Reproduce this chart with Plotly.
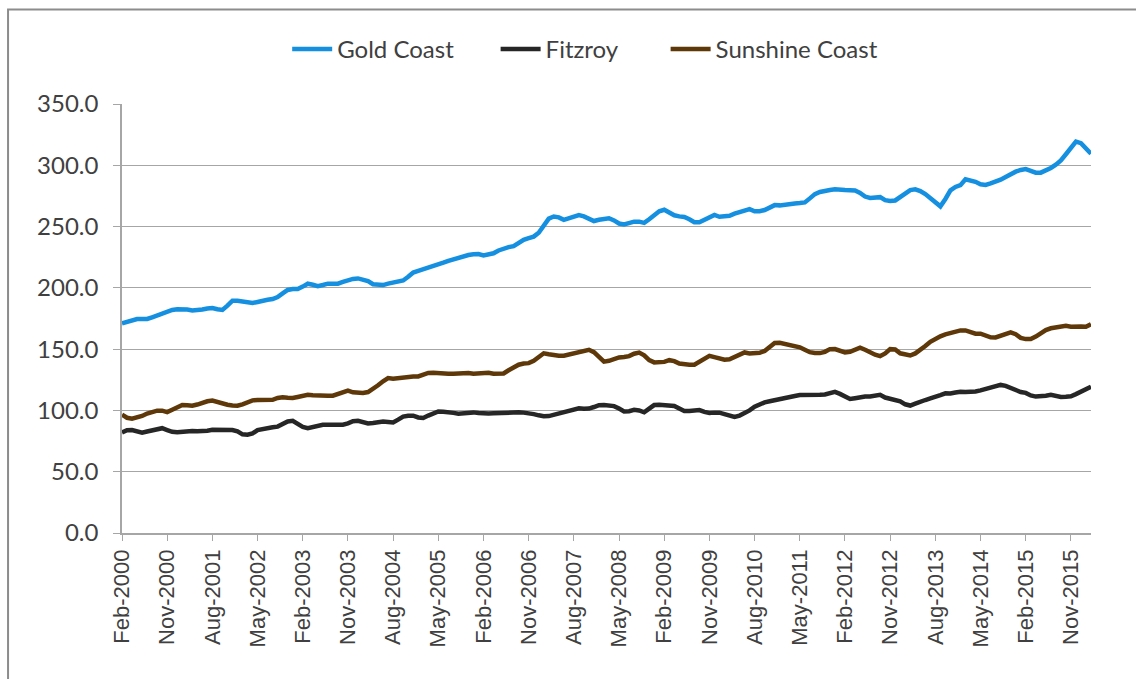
import pandas as pd
import plotly.graph_objects as go

# Monthly index values, Feb-2000 .. Mar-2016
months = pd.date_range("2000-02-01", periods=194, freq="MS").strftime("%b-%Y").tolist()

gold_coast = [
    171.0, 172.0, 173.0, 174.5, 174.5, 174.6, 176.0, 177.5, 179.5, 181.0,
    182.0, 182.5, 182.7, 182.3, 181.6, 181.5, 182.3, 183.2, 183.5, 182.5,
    182.0, 185.5, 189.5, 189.5, 189.0, 188.0, 187.6, 188.5, 189.8, 190.3,
    190.9, 192.5, 195.5, 198.3, 199.0, 199.0, 201.0, 203.4, 202.5, 201.3,
    202.3, 203.4, 203.4, 203.4, 204.8, 206.3, 207.3, 207.7, 207.0, 205.5,
    203.0, 202.3, 202.3, 203.5, 204.5, 205.2, 206.0, 209.0, 212.5, 213.8,
    215.0, 216.2, 217.5, 219.0, 220.5, 222.0, 223.3, 224.3, 225.5, 226.8,
    227.4, 227.6, 226.5, 227.0, 228.2, 230.5, 232.3, 233.2, 234.0, 236.5,
    239.2, 240.5, 241.8, 245.0, 251.0, 256.5, 258.2, 257.5, 255.5, 256.5,
    258.3, 259.3, 258.3, 256.5, 254.5, 255.5, 256.5, 256.8, 255.0, 252.5,
    251.8, 253.0, 254.0, 254.0, 253.0, 256.0, 259.5, 262.5, 263.7, 261.0,
    259.2, 258.3, 257.8, 256.0, 253.5, 253.5, 255.8, 257.8, 259.5, 258.0,
    258.2, 258.8, 260.5, 261.8, 263.0, 264.2, 262.5, 262.5, 263.5, 265.5,
    267.5, 267.3, 267.5, 268.3, 268.8, 269.2, 269.7, 273.0, 276.5, 278.2,
    279.3, 279.8, 280.4, 280.5, 279.8, 279.6, 279.4, 277.5, 274.5, 273.3,
    273.5, 274.0, 271.5, 270.8, 271.3, 274.0, 277.5, 279.8, 280.4, 279.0,
    276.5, 273.5, 269.5, 266.5, 272.5, 279.5, 282.3, 283.8, 288.5, 287.5,
    286.5, 284.5, 284.0, 285.2, 286.3, 288.3, 290.5, 292.8, 294.8, 296.2,
    296.9, 295.5, 294.0, 294.0, 295.5, 297.8, 300.5, 304.0, 309.0, 314.5,
    319.3, 318.0, 313.5, 309.5,
]

fitzroy = [
    82.0, 83.8, 84.0, 82.8, 81.8, 82.8, 84.0, 84.8, 85.5, 84.0,
    82.6, 82.3, 82.5, 83.6, 83.2, 83.0, 82.9, 83.5, 84.3, 84.3,
    84.3, 84.2, 84.0, 83.0, 80.5, 80.2, 81.2, 84.0, 85.0, 85.8,
    86.3, 86.8, 88.5, 91.0, 91.5, 89.5, 86.5, 85.6, 86.8, 88.0,
    88.3, 88.3, 88.3, 88.3, 88.3, 89.4, 91.2, 91.5, 90.3, 89.3,
    89.8, 90.6, 91.0, 90.6, 90.2, 92.5, 95.0, 95.7, 95.7, 94.3,
    93.8, 95.8, 98.0, 99.2, 99.0, 98.8, 98.0, 97.4, 97.8, 98.3,
    98.4, 97.9, 97.4, 97.5, 97.6, 97.8, 97.9, 98.5, 98.9, 98.5,
    98.2, 97.9, 97.0, 96.0, 95.2, 95.4, 96.5, 98.0, 99.3, 100.5,
    101.6, 101.8, 101.3, 101.5, 102.8, 104.3, 104.5, 104.0, 103.5, 101.5,
    99.2, 99.4, 100.5, 100.0, 98.5, 101.5, 104.4, 104.7, 104.5, 104.2,
    103.6, 101.5, 99.5, 99.5, 100.3, 100.3, 98.8, 97.9, 98.2, 98.2,
    97.0, 96.0, 94.7, 95.8, 97.5, 100.0, 103.0, 105.2, 106.6, 107.5,
    108.5, 109.6, 110.5, 111.0, 111.8, 112.5, 112.8, 112.8, 112.8, 112.8,
    113.0, 114.5, 115.2, 113.5, 111.0, 109.3, 110.0, 111.1, 111.4, 111.4,
    112.0, 112.7, 110.5, 109.8, 108.9, 107.5, 105.0, 104.0, 105.5, 107.3,
    108.5, 109.8, 110.8, 112.5, 114.0, 113.8, 114.6, 115.3, 115.0, 114.8,
    115.5, 116.4, 117.5, 118.7, 119.8, 120.8, 120.0, 118.0, 116.3, 115.0,
    114.3, 112.2, 111.3, 111.4, 112.0, 112.7, 112.0, 110.9, 111.2, 111.6,
    113.3, 115.3, 117.6, 119.3,
]

sunshine_coast = [
    96.5, 94.0, 93.2, 94.2, 95.5, 97.5, 99.0, 99.8, 99.8, 98.6,
    100.5, 103.0, 104.5, 104.3, 103.8, 104.8, 106.3, 107.5, 108.0, 106.6,
    105.3, 104.6, 104.0, 103.8, 105.0, 106.8, 108.2, 108.5, 108.7, 108.7,
    108.7, 110.2, 110.8, 110.4, 110.1, 111.0, 112.2, 112.8, 112.4, 112.0,
    112.0, 112.0, 112.0, 113.6, 115.5, 116.2, 114.8, 114.2, 114.2, 115.0,
    117.5, 120.5, 123.8, 126.4, 125.8, 126.3, 127.2, 127.7, 127.7, 127.7,
    129.0, 130.6, 130.8, 130.2, 129.9, 129.9, 129.9, 130.2, 131.0, 130.5,
    129.9, 130.4, 131.2, 130.8, 129.9, 129.9, 130.2, 132.8, 135.0, 137.3,
    138.3, 138.6, 140.5, 144.0, 146.6, 145.8, 144.8, 144.6, 144.6, 145.5,
    146.5, 147.0, 148.4, 149.5, 147.5, 143.0, 139.8, 140.5, 142.2, 143.2,
    143.6, 144.3, 146.3, 147.2, 145.0, 141.0, 139.2, 139.2, 139.6, 141.0,
    140.2, 138.2, 137.3, 137.3, 137.3, 139.5, 142.3, 144.5, 143.5, 142.2,
    141.4, 141.7, 143.8, 146.2, 147.3, 146.5, 146.5, 147.0, 148.5, 152.0,
    155.0, 155.2, 154.5, 153.5, 152.9, 151.5, 149.5, 147.5, 146.8, 146.8,
    147.8, 150.0, 150.1, 148.2, 147.3, 147.8, 149.8, 151.2, 149.5, 147.0,
    145.5, 144.3, 146.5, 150.0, 149.8, 146.6, 145.5, 144.8, 146.5, 149.0,
    152.5, 156.0, 158.5, 160.5, 162.0, 163.1, 164.5, 165.3, 165.3, 164.0,
    162.6, 162.6, 161.5, 159.6, 159.5, 160.9, 162.4, 163.6, 162.2, 159.2,
    158.2, 158.2, 160.3, 163.2, 165.6, 167.0, 167.4, 168.3, 169.0, 168.2,
    168.6, 168.5, 168.2, 170.4,
]

y_ticks = [0, 50, 100, 150, 200, 250, 300, 350]
x_tick_labels = months[::9]

# legend entries get extra trailing room so they spread out across the top
pad = "\u00a0"
series = [
    ("Gold Coast", gold_coast, "#1590e0", 6),
    ("Fitzroy", fitzroy, "#262626", 7),
    ("Sunshine Coast", sunshine_coast, "#5e3809", 0),
]

fig = go.Figure()
for name, values, color, npad in series:
    fig.add_trace(go.Scatter(
        x=months, y=values, name=name + pad * npad, mode="lines",
        line=dict(color=color, width=4.5),
        hovertemplate="%{x}: %{y:.1f}<extra>" + name + "</extra>",
    ))

grid = "#a6a6a6"
fig.update_layout(
    width=1136, height=679,
    margin=dict(l=122, r=45, t=104, b=146),
    paper_bgcolor="white", plot_bgcolor="white",
    font=dict(family="Lato, sans-serif", color="#404040"),
    legend=dict(
        orientation="h", x=0.478, xanchor="center", y=1.127, yanchor="middle",
        font=dict(size=24, color="#404040"), itemwidth=40,
        tracegroupgap=0,
    ),
    xaxis=dict(
        type="category", categoryorder="array", categoryarray=months,
        range=[0, len(months) - 1],
        tickmode="array", tickvals=x_tick_labels, ticktext=x_tick_labels,
        tickangle=-90, ticks="outside", ticklen=6, tickcolor=grid,
        showline=True, linecolor=grid, linewidth=1.5,
        showgrid=False, zeroline=False,
        tickfont=dict(family="Liberation Sans, Arial, sans-serif", size=22, color="#404040"),
    ),
    yaxis=dict(
        range=[0, 350], tickvals=y_ticks, tickformat=".1f",
        ticks="outside", ticklen=7, tickcolor=grid,
        showline=True, linecolor=grid, linewidth=1.5,
        showgrid=True, gridcolor=grid, gridwidth=1.2,
        zeroline=False, ticklabelstandoff=10,
        tickfont=dict(size=24, color="#404040"),
    ),
    shapes=[dict(
        type="rect", xref="paper", yref="paper",
        x0=-0.1176, x1=1.2, y0=-0.6, y1=1.22,
        line=dict(color="#8c8c8c", width=2), fillcolor="rgba(0,0,0,0)",
        layer="below",
    )],
)

fig.write_html("out.html")
